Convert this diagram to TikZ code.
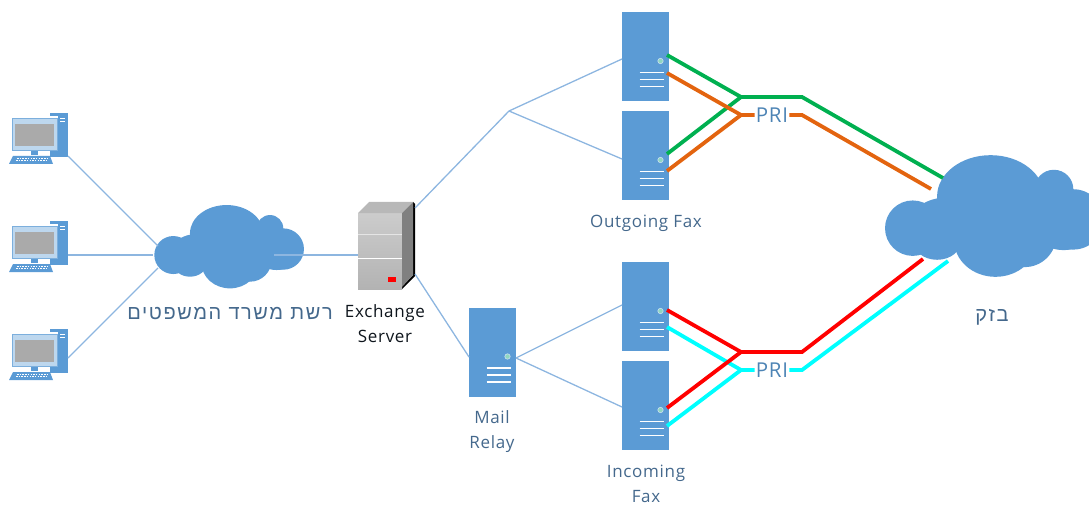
\documentclass[tikz,border=0pt]{standalone}
\usepackage{fontspec}
\setmainfont[LetterSpace=4]{Open Sans}
\newfontfamily\hebfont[Script=Hebrew,LetterSpace=8]{Liberation Sans}
\TeXXeTstate=1
\definecolor{srvblue}{HTML}{5B9BD5}
\definecolor{wire}{HTML}{8DB6E0}
\definecolor{pcline}{HTML}{BDD7EE}
\definecolor{lblblue}{HTML}{44688C}
\definecolor{faxgreen}{HTML}{00B050}
\definecolor{faxorange}{HTML}{E3640F}
\definecolor{faxred}{HTML}{FF0000}
\definecolor{faxcyan}{HTML}{00FFFF}
\tikzset{
  serverbox/.style={draw=none,fill=srvblue,minimum width=47pt,minimum height=89pt,inner sep=0pt},
  wireline/.style={draw=wire,line width=1.3pt},
  trunk/.style={line width=3.8pt,line join=miter},
  lbl/.style={font=\fontsize{17}{25}\selectfont,text=lblblue,align=center,inner sep=0pt},
  prilbl/.style={font=\fontsize{20.5}{22}\selectfont,text=srvblue!85!black,inner sep=1pt},
  serverdetail/.pic={
    \fill[fill=white!70!green!60!srvblue,draw=white!70!srvblue,line width=.6pt] (15,4.5) circle (2.7);
    \draw[white,line width=1.6pt] (-6,16)--(18,16) (-6,23)--(18,23) (-6,30)--(18,30);
  },
  pcicon/.pic={
    \fill[srvblue] (50,0) -- (68,0) -- (68,44) -- (50,44) -- cycle;
    \draw[white,line width=.7pt] (60,5)--(65,5) (60,8)--(65,8);
    \fill[srvblue,draw=white,line width=.5pt] (30,37) rectangle (38,42);
    \fill[white] (10,3) rectangle (58,38);
    \fill[pcline,draw=srvblue!80,line width=.7pt] (12,5) rectangle (57,37);
    \fill[white!65!black!95] (15,11) rectangle (54,33);
    \fill[srvblue] (13,43) -- (50,43) -- (53,51) -- (9,51) -- cycle;
    \draw[white,line width=.6pt,dash pattern=on 1.5pt off 1.2pt] (17,45)--(47,45) (16,47.5)--(48,47.5);
  },
  cloudshape/.pic={
    \begin{scope}[x=.3333pt,y=-.3333pt,shift={(-688,-440)}]
    \fill[srvblue] (520,465) ellipse [x radius=57,y radius=57];
    \fill[srvblue] (680,400) ellipse [x radius=110,y radius=85];
    \fill[srvblue] (810,385) ellipse [x radius=40,y radius=40];
    \fill[srvblue] (850,447) ellipse [x radius=62,y radius=62];
    \fill[srvblue] (690,490) ellipse [x radius=85,y radius=75];
    \fill[srvblue] (570,490) ellipse [x radius=50,y radius=40];
    \fill[srvblue] (750,480) ellipse [x radius=65,y radius=65];
    \fill[srvblue] (830,470) ellipse [x radius=60,y radius=40];
    \fill[srvblue] (590,450) ellipse [x radius=72,y radius=48];
    \fill[srvblue] (770,430) ellipse [x radius=60,y radius=60];
    \end{scope}
  }
}
\begin{document}
\begin{tikzpicture}[x=1pt,y=-1pt]
\useasboundingbox (0,0) rectangle (1089,505);
\clip (0,0) rectangle (1089,505);

% clouds
\pic at (229.3,246.7) {cloudshape};
\pic[scale=1.46] at (994.5,216) {cloudshape};
\coordinate (lan) at (229,246);
\coordinate (lanW1) at (158,246);
\coordinate (lanW2) at (153,255);
\coordinate (lanW3) at (158,268);
\coordinate (lanE) at (274,255);

% PCs
\pic at (0,113) {pcicon};
\pic at (0,221) {pcicon};
\pic at (0,329) {pcicon};
\coordinate (pc1) at (68,156);
\coordinate (pc2) at (68,255);
\coordinate (pc3) at (68,358);

% Servers
\node[serverbox] (fax1) at (645.5,56.5) {};
\node[serverbox] (fax2) at (645.5,155.5) {};
\node[serverbox] (fax3) at (645.5,306.5) {};
\node[serverbox] (fax4) at (645.5,405.5) {};
\node[serverbox] (relay) at (492.5,352) {};
\pic at (fax1) {serverdetail};
\pic at (fax2) {serverdetail};
\pic at (fax3) {serverdetail};
\pic at (fax4) {serverdetail};
\pic at (relay) {serverdetail};

% Exchange server
\fill[black] (361,289) -- (402,289) -- (415,276) -- (415,204) -- (413,202) -- (413,275) -- (402,286) -- (361,286) -- cycle;
\shade[top color=white!80!black,bottom color=white!70!black] (358,213) rectangle (402,289);
\fill[white!72!black] (358,213) -- (369,202) -- (413,202) -- (402,213) -- cycle;
\fill[white!50!black] (402,213) -- (413,202) -- (413,275) -- (402,287) -- cycle;
\draw[white!90!black,line width=.8pt] (358,234)--(402,234);
\draw[white,line width=1pt] (358,258)--(402,258);
\fill[red] (388,277) rectangle (396,282);
\coordinate (exW) at (358,255);
\coordinate (exNE) at (415,208);
\coordinate (exSE) at (415,274);

% thin connectors
\coordinate (split) at (509,111);
\coordinate (f1w) at (622,59);
\coordinate (f2w) at (622,159);
\coordinate (f3w) at (622,305);
\coordinate (f4w) at (622,407);
\coordinate (relayW) at (469,357);
\coordinate (relayE) at (516,358);
\draw[wireline] (pc1) -- (lanW1);
\draw[wireline] (pc2) -- (lanW2);
\draw[wireline] (pc3) -- (lanW3);
\draw[wireline] (lanE) -- (exW);
\draw[wireline] (exNE) -- (split) -- (f1w);
\draw[wireline] (split) -- (f2w);
\draw[wireline] (exSE) -- (relayW);
\draw[wireline] (relayE) -- (f3w);
\draw[wireline] (relayE) -- (f4w);

% PRI labels
\node[prilbl] (pri1) at (772,115) {PRI};
\node[prilbl] (pri2) at (772,370) {PRI};

% trunk coordinates
\coordinate (g1) at (667,55);
\coordinate (g2) at (667,154);
\coordinate (gj) at (741,97);
\coordinate (gk) at (802,97);
\coordinate (gc) at (943,178);
\coordinate (o1) at (667,73);
\coordinate (o2) at (667,171);
\coordinate (oj) at (741,115);
\coordinate (ok) at (802,115);
\coordinate (oc) at (931,189);
\coordinate (r1) at (667,310);
\coordinate (r2) at (667,408);
\coordinate (rj) at (741,352);
\coordinate (rk) at (802,352);
\coordinate (rc) at (923,259);
\coordinate (c1) at (667,327);
\coordinate (c2) at (667,426);
\coordinate (cj) at (741,370);
\coordinate (ck) at (802,370);
\coordinate (cc) at (948,261);

\draw[trunk,faxgreen] (g1) -- (gj) -- (gk) -- (gc);
\draw[trunk,faxgreen] (g2) -- (gj);
\draw[trunk,faxorange] (o1) -- (oj) -- (pri1.west);
\draw[trunk,faxorange] (o2) -- (oj);
\draw[trunk,faxorange] (pri1.east) -- (ok) -- (oc);
\draw[trunk,faxcyan] (c1) -- (cj) -- (pri2.west);
\draw[trunk,faxcyan] (c2) -- (cj);
\draw[trunk,faxcyan] (pri2.east) -- (ck) -- (cc);
\draw[trunk,faxred] (r1) -- (rj) -- (rk) -- (rc);
\draw[trunk,faxred] (r2) -- (rj);

% labels
\node[lbl] (lanlbl) at (230,314) {\fontsize{20}{22}\selectfont\hebfont\beginR רשת משרד המשפטים\endR};
\node[lbl,text=black!80!lblblue] (exlbl) at (385,324) {Exchange\\Server};
\node[lbl] (relaylbl) at (492,432) {Mail\\Relay};
\node[lbl] (outlbl) at (646,223) {Outgoing Fax};
\node[lbl] (inlbl) at (646,484) {Incoming\\Fax};
\node[lbl] (bzqlbl) at (992,317) {\fontsize{20}{22}\selectfont\hebfont\beginR בזק\endR};
\end{tikzpicture}
\end{document}
